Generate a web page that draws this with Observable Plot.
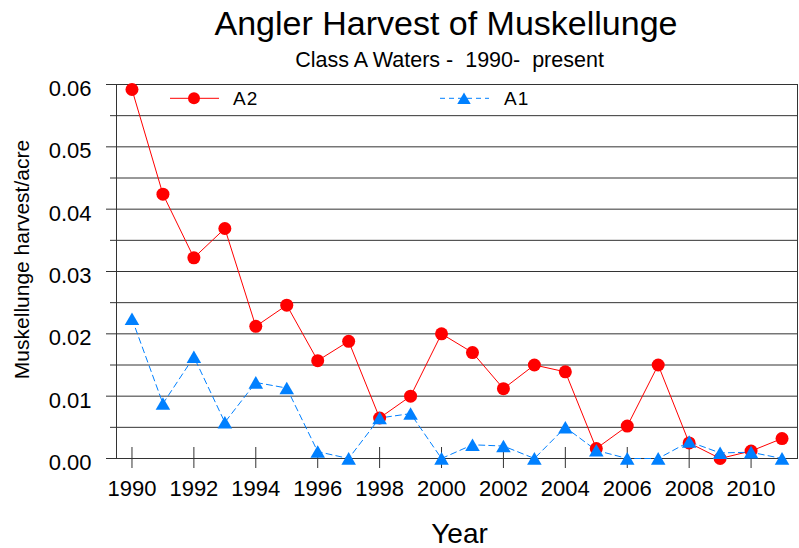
<!DOCTYPE html>
<html><head><meta charset="utf-8">
<script src="https://cdn.jsdelivr.net/npm/d3@7"></script>
<script src="https://cdn.jsdelivr.net/npm/@observablehq/plot@0.6"></script>
<style>body{margin:0;background:#fff} svg text{white-space:pre}</style>
</head><body><div id="chart"></div>
<script>
const years = [1990,1991,1992,1993,1994,1995,1996,1997,1998,1999,2000,2001,2002,2003,2004,2005,2006,2007,2008,2009,2010,2011];
const a2 = [0.0592,0.0424,0.0322,0.0369,0.0212,0.0246,0.0157,0.0188,0.0065,0.0100,0.0200,0.0170,0.0112,0.0150,0.0139,0.0016,0.0052,0.0150,0.0025,0.0000,0.0012,0.0032];
const a1 = [0.0224,0.0088,0.0163,0.0058,0.0122,0.0113,0.0011,0.0000,0.0065,0.0072,0.0000,0.0022,0.0020,0.0000,0.0050,0.0013,0.0000,0.0000,0.0027,0.0009,0.0010,0.0000];
const yMajorTicks = [0,0.01,0.02,0.03,0.04,0.05,0.06];
const yMinorTicks = [0.005,0.015,0.025,0.035,0.045,0.055];
const yGridLines = [0.005,0.01,0.015,0.02,0.025,0.03,0.035,0.04,0.045,0.05,0.055];
const xTicks = [1990,1992,1994,1996,1998,2000,2002,2004,2006,2008,2010];
const seriesNames = ["A2","A1"];
const title = "Angler Harvest of Muskellunge";
const subtitle = "Class A Waters -  1990-  present";
const xLabel = "Year";
const yLabel = "Muskellunge harvest/acre";

const rowsA2 = years.map((year,i)=>({year, value:a2[i]}));
const rowsA1 = years.map((year,i)=>({year, value:a1[i]}));
const font = '"Liberation Sans", Arial, sans-serif';
const red = "#ff0000", blue = "#0080ff";
const triR = 5.4;
const triDy = 2.0;

const plot = Plot.plot({
  width:799, height:548, marginTop:84, marginBottom:90, marginLeft:116, marginRight:2,
  style:{fontFamily:font, background:"#fff", color:"#000", overflow:"visible"},
  x:{domain:[1989.5,2011.5]},
  y:{domain:[0,0.06]},
  marks:[
    Plot.ruleY(yGridLines, {stroke:"#333", strokeWidth:1}),
    Plot.frame({stroke:"#333", strokeWidth:1}),
    Plot.axisY(yMajorTicks, {tickSize:10, text:null, label:null, stroke:"#333"}),
    Plot.axisY(yMinorTicks, {tickSize:6, text:null, label:null, stroke:"#333"}),
    Plot.axisY(yMajorTicks, {tickSize:0, tickPadding:25, tickFormat:d3.format(".2f"), fontSize:22, dy:4.5, label:null}),
    Plot.axisX(xTicks, {tickSize:21, dy:-11, text:null, label:null, stroke:"#333"}),
    Plot.axisX(xTicks, {tickSize:0, tickPadding:22, fontSize:22, tickFormat:d=>String(d), label:null}),
    Plot.line(rowsA2, {x:"year", y:"value", stroke:red, strokeWidth:1}),
    Plot.line(rowsA1, {x:"year", y:"value", stroke:blue, strokeWidth:1, strokeDasharray:"6,4"}),
    Plot.dot(rowsA2, {x:"year", y:"value", r:6.5, fill:red}),
    Plot.dot(rowsA1, {x:"year", y:"value", r:triR, symbol:"triangle", fill:blue, dy:triDy}),
    Plot.text([title], {frameAnchor:"top", lineAnchor:"bottom", dy:-50, dx:-11, fontSize:34}),
    Plot.text([subtitle], {frameAnchor:"top", lineAnchor:"bottom", dy:-18, dx:-7.5, fontSize:21.5}),
    Plot.text([yLabel], {frameAnchor:"left", textAnchor:"middle", rotate:-90, dx:-94, dy:-12, fontSize:21}),
    Plot.text([xLabel], {frameAnchor:"bottom", lineAnchor:"bottom", dy:84, dx:2.5, fontSize:28})
  ]
});

// legend
const svg = d3.select(plot);
const lg = svg.append("g").attr("font-family", font).attr("font-size", 19).attr("text-anchor", "start");
const legendItems = [
  {name:seriesNames[0], color:red, x0:170, x1:219, cx:194, tx:233, dash:null, sym:"circle"},
  {name:seriesNames[1], color:blue, x0:440, x1:489, cx:464, tx:504, dash:"5,4", sym:"triangle"}
];
const ly = 98.3;
for (const it of legendItems) {
  lg.append("line").attr("x1", it.x0).attr("x2", it.x1).attr("y1", ly).attr("y2", ly)
    .attr("stroke", it.color).attr("stroke-width", 1).attr("stroke-dasharray", it.dash);
  if (it.sym === "circle") {
    lg.append("circle").attr("cx", it.cx).attr("cy", ly).attr("r", 6).attr("fill", it.color);
  } else {
    lg.append("path").attr("d", d3.symbol(d3.symbolTriangle, 5*5*Math.PI)())
      .attr("transform", `translate(${it.cx},${ly+1.9})`).attr("fill", it.color);
  }
  lg.append("text").attr("x", it.tx).attr("y", ly + 7).attr("fill", "#000")
    .attr("letter-spacing", 1).text(it.name);
}
document.getElementById("chart").appendChild(plot);
</script>
</body></html>
